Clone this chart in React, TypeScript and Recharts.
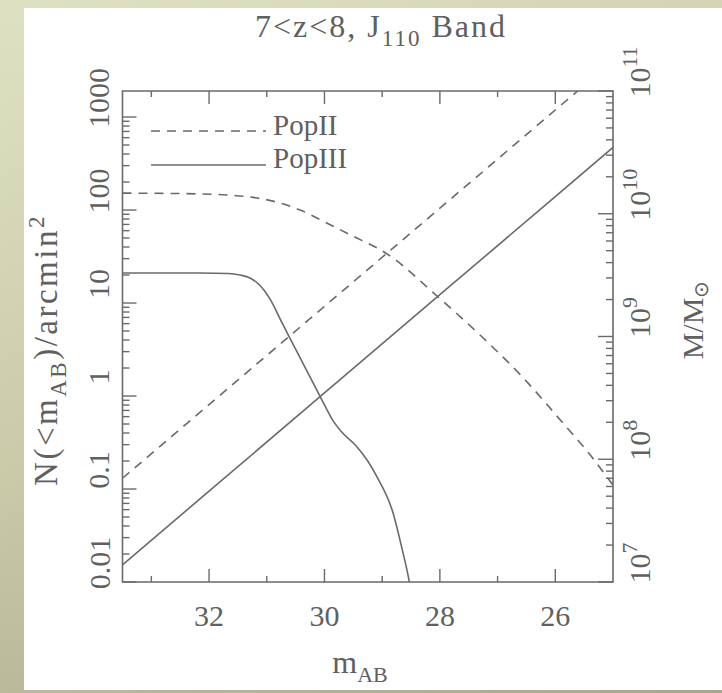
import React from 'react';
import { LineChart, Line, XAxis, YAxis, ReferenceArea } from 'recharts';

const W = 722;
const H = 693;

// ---- axes ----
const magDomain: [number, number] = [25, 33.5];
const magTicks = [33, 32, 31, 30, 29, 28, 27, 26];
const magLabelTicks = [32, 30, 28, 26];

const countDomain: [number, number] = [0.01, 1905];
const countLabelTicks = [0.01, 0.1, 1, 10, 100, 1000];
const countTickText = ['0.01', '0.1', '1', '10', '100', '1000'];

const massDomain: [number, number] = [1e7, 1e11];
const massLabelTicks = [1e7, 1e8, 1e9, 1e10, 1e11];
const massExponents = ['7', '8', '9', '10', '11'];

// ---- series: cumulative counts N(<m_AB) per arcmin^2 (left axis) ----
const popIICountMag = [33.5, 32.16, 31.29, 30.77, 30.42, 29.99, 29.55, 28.91, 28.03, 27.3, 26.6, 25.91, 25.39, 25.0];
const popIICount = [152, 149, 138, 119, 100, 74, 54, 33.6, 11.6, 4.5, 1.68, 0.55, 0.23, 0.11];

const popIIICountMag = [33.5, 32.16, 31.67, 31.46, 31.29, 31.12, 30.95, 30.75, 30.6, 30.33, 30.07, 29.85, 29.7, 29.45, 29.25, 29.09, 28.81, 28.65, 28.53, 28.49];
const popIIICount = [21, 21, 20.8, 20, 18.6, 15.5, 11.2, 6.4, 4.2, 2.0, 0.975, 0.54, 0.41, 0.29, 0.2, 0.135, 0.055, 0.022, 0.01, 0.007];

// ---- series: halo mass M/Msun (right axis) ----
const massLineMag = [33.5, 32, 30, 28, 26, 25];
const popIIMass = [7.0e7, 2.79e8, 1.76e9, 1.11e10, 7.0e10, 1.76e11];
const popIIIMass = [1.38e7, 5.5e7, 3.47e8, 2.19e9, 1.38e10, 3.47e10];

const zip = (xs: number[], ys: number[]) => xs.map((m, i) => ({ m, v: ys[i] }));
const popIICountData = zip(popIICountMag, popIICount);
const popIIICountData = zip(popIIICountMag, popIIICount);
const popIIMassData = zip(massLineMag, popIIMass);
const popIIIMassData = zip(massLineMag, popIIIMass);

const minorsOf = (decades: number[], top: number) => {
  const out: number[] = [];
  decades.forEach((d) => {
    for (let k = 2; k <= 9; k++) {
      const v = d * k;
      if (v < top) out.push(v);
    }
  });
  return out;
};
const countTicks = [...countLabelTicks, ...minorsOf(countLabelTicks, countDomain[1])];
const massTicks = [...massLabelTicks, ...minorsOf(massLabelTicks.slice(0, 4), massDomain[1])];

const INK = '#6a6a6a';
const TXT = '#606060';
const FONT = '"Liberation Serif", serif';
const TICK_FS = 30;
const PLOT_H = 491;
const VLABEL_SHIFT = -19;

const near = (a: number, b: number) => Math.abs(a - b) / b < 1e-6;

const BottomTick = (props: any) => {
  const { x, y, payload } = props;
  const v = payload.value as number;
  const major = magLabelTicks.includes(v);
  const len = major ? 13 : 6;
  return (
    <g>
      <line x1={x} x2={x} y1={y} y2={y - len} stroke={INK} strokeWidth={1.4} />
      <line x1={x} x2={x} y1={y - PLOT_H} y2={y - PLOT_H + len} stroke={INK} strokeWidth={1.4} />
      {major && (
        <text x={x} y={y + 44} textAnchor="middle" fontFamily={FONT} fontSize={TICK_FS} fill={TXT}>
          {v}
        </text>
      )}
    </g>
  );
};

const LeftTick = (props: any) => {
  const { x, y, payload } = props;
  const v = payload.value as number;
  const idx = countLabelTicks.findIndex((t) => near(v, t));
  const major = idx >= 0;
  const len = major ? 14 : 7;
  const lx = x - 13;
  const ly = y + VLABEL_SHIFT;
  return (
    <g>
      <line x1={x} x2={x + len} y1={y} y2={y} stroke={INK} strokeWidth={1.4} />
      {major && (
        <text
          x={lx}
          y={ly}
          transform={`rotate(-90 ${lx} ${ly})`}
          textAnchor="middle"
          fontFamily={FONT}
          fontSize={TICK_FS}
          fill={TXT}
        >
          {countTickText[idx]}
        </text>
      )}
    </g>
  );
};

const RightTick = (props: any) => {
  const { x, y, payload } = props;
  const v = payload.value as number;
  const idx = massLabelTicks.findIndex((t) => near(v, t));
  const major = idx >= 0;
  const len = major ? 15 : 7;
  const lx = x + 37;
  const ly = y + VLABEL_SHIFT;
  return (
    <g>
      <line x1={x} x2={x - len} y1={y} y2={y} stroke={INK} strokeWidth={1.4} />
      {major && (
        <text
          x={lx}
          y={ly}
          transform={`rotate(-90 ${lx} ${ly})`}
          textAnchor="middle"
          fontFamily={FONT}
          fontSize={TICK_FS}
          fill={TXT}
        >
          10
          <tspan dy={-13} fontSize={22}>
            {massExponents[idx]}
          </tspan>
        </text>
      )}
    </g>
  );
};

export default function App() {
  return (
    <div
      style={{
        position: 'absolute',
        left: 0,
        top: 0,
        width: W,
        height: H,
        overflow: 'hidden',
        background: 'linear-gradient(160deg, #dfe2c2 0%, #c9caa8 50%, #a9a78a 100%)',
      }}
    >
      <div style={{ position: 'absolute', left: 24, top: 8, width: 698, height: 682, background: '#fff' }} />
      <div style={{ position: 'absolute', left: 0, top: 0 }}>
        <LineChart width={W} height={H} margin={{ top: 91, right: 9, bottom: 51, left: 22.5 }}>
          <XAxis
            type="number"
            dataKey="m"
            domain={magDomain}
            reversed
            allowDataOverflow
            ticks={magTicks}
            interval={0}
            tick={BottomTick}
            tickLine={false}
            axisLine={false}
            tickSize={0}
            tickMargin={0}
            height={60}
          />
          <YAxis
            yAxisId="n"
            type="number"
            scale="log"
            domain={countDomain}
            allowDataOverflow
            ticks={countTicks}
            interval={0}
            tick={LeftTick}
            tickLine={false}
            axisLine={false}
            tickSize={0}
            tickMargin={0}
            width={100}
          />
          <YAxis
            yAxisId="m"
            orientation="right"
            type="number"
            scale="log"
            domain={massDomain}
            allowDataOverflow
            ticks={massTicks}
            interval={0}
            tick={RightTick}
            tickLine={false}
            axisLine={false}
            tickSize={0}
            tickMargin={0}
            width={100}
          />
          <ReferenceArea
            yAxisId="n"
            x1={magDomain[1]}
            x2={magDomain[0]}
            y1={countDomain[0]}
            y2={countDomain[1]}
            fill="none"
            stroke={INK}
            strokeWidth={1.6}
            ifOverflow="visible"
          />
          <Line yAxisId="n" data={popIICountData} dataKey="v" type="monotone" stroke={INK} strokeWidth={1.6} strokeDasharray="9 7" dot={false} isAnimationActive={false} />
          <Line yAxisId="n" data={popIIICountData} dataKey="v" type="monotone" stroke={INK} strokeWidth={1.6} dot={false} isAnimationActive={false} />
          <Line yAxisId="m" data={popIIMassData} dataKey="v" type="linear" stroke={INK} strokeWidth={1.6} strokeDasharray="9 7" dot={false} isAnimationActive={false} />
          <Line yAxisId="m" data={popIIIMassData} dataKey="v" type="linear" stroke={INK} strokeWidth={1.6} dot={false} isAnimationActive={false} />
        </LineChart>
      </div>
      <svg width={W} height={H} style={{ position: 'absolute', left: 0, top: 0, pointerEvents: 'none' }}>
        <text x={381} y={37} textAnchor="middle" fontFamily={FONT} fontSize={32} letterSpacing={2} fill={TXT}>
          7&lt;z&lt;8, J<tspan dy={9} fontSize={23}>110</tspan>
          <tspan dy={-9}> Band</tspan>
        </text>
        <text x={360} y={673} textAnchor="middle" fontFamily={FONT} fontSize={32} fill={TXT}>
          m<tspan dy={9} fontSize={22}>AB</tspan>
        </text>
        <text
          x={57}
          y={350}
          transform="rotate(-90 57 350)"
          textAnchor="middle"
          fontFamily={FONT}
          fontSize={33}
          letterSpacing={2.5}
          fill={TXT}
        >
          N(&lt;m<tspan dy={9} fontSize={23}>AB</tspan>
          <tspan dy={-9}>)/arcmin</tspan>
          <tspan dy={-13} fontSize={23}>2</tspan>
        </text>
        <text
          x={703}
          y={320}
          transform="rotate(-90 703 320)"
          textAnchor="middle"
          fontFamily={FONT}
          fontSize={30}
          fill={TXT}
        >
          M/M<tspan dy={5} fontSize={20}>⊙</tspan>
        </text>
        <line x1={151} x2={266} y1={131} y2={131} stroke={INK} strokeWidth={1.6} strokeDasharray="9 7" />
        <text x={273} y={135} fontFamily={FONT} fontSize={29} fill={TXT}>PopII</text>
        <line x1={151} x2={266} y1={165} y2={165} stroke={INK} strokeWidth={1.6} />
        <text x={273} y={168} fontFamily={FONT} fontSize={29} fill={TXT}>PopIII</text>
      </svg>
    </div>
  );
}
